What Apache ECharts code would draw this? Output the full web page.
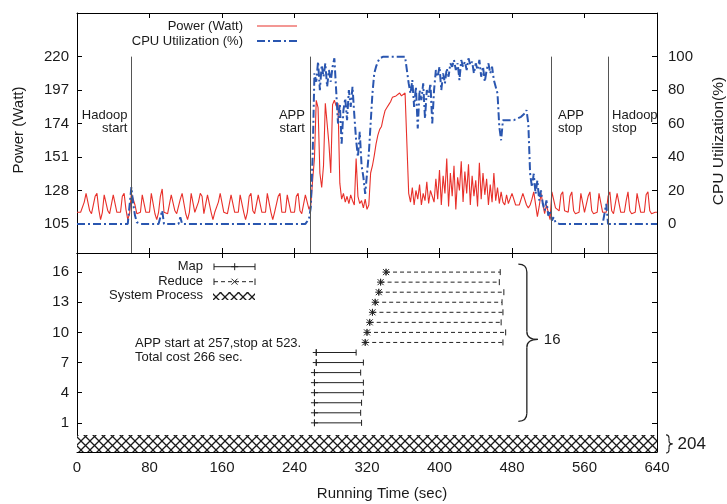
<!DOCTYPE html>
<html><head><meta charset="utf-8">
<script src="https://cdn.jsdelivr.net/npm/echarts@6/dist/echarts.min.js"></script>
<style>html,body{margin:0;padding:0;background:#fff}#c{width:727px;height:504px}</style>
</head><body><div id="c"></div>
<script>
// ---------------- data ----------------
const sampleStep = 2; // seconds between samples (t = 0..640)
const power = [
113,113,113,114,120,126,126,114,112,113,
124,126,115,108,113,125,126,114,112,112,
125,126,113,112,113,124,126,115,108,112,
126,127,118,112,113,113,125,126,113,112,
113,126,125,112,108,113,124,129,113,112,
112,113,125,126,114,112,113,122,126,125,
112,108,113,126,125,113,112,120,126,124,
112,112,125,126,113,108,113,113,120,126,
126,113,112,112,113,125,126,113,112,113,
125,126,113,108,113,124,126,114,112,113,
125,126,113,112,113,126,125,113,108,113,
113,124,126,113,112,113,125,126,113,112,
113,124,126,114,112,112,125,126,115,
118,135,150,190,185,140,130,145,188,189,
160,140,187,190,186,188,133,122,126,120,
124,119,125,121,118,150,124,119,121,116,
122,115,118,140,145,152,160,166,170,172,
178,183,185,187,189,192,191,193,192,195,
193,194,195,195,126,
120,130,118,128,122,132,118,126,121,134,
119,128,124,120,136,122,142,118,138,126,
150,117,140,124,145,115,137,128,148,120,
141,126,146,118,138,124,135,117,147,122,
140,125,136,118,132,120,140,121,130,119,
127,120,118,125,119,118,
126,127,118,117,118,119,126,127,118,116,
118,122,127,126,110,117,126,127,112,118,
117,108,127,126,116,115,114,125,127,114,
113,113,124,127,114,112,113,113,126,126,
113,112,124,127,114,112,113,113,126,126,
113,112,113,124,127,114,112,113,126,126,
113,112,113,121,127,114,112,113,113,126,
126,113,112,113,125,127,114,112,112,113,
113];
const cpu = [
0,0,0,0,0,0,0,0,0,0,
0,0,0,0,0,0,0,0,0,0,
0,0,0,0,0,0,0,0,0,0,
22,12,5,1,0,0,0,0,0,0,
0,0,0,0,0,0,0,8,0,0,
0,0,0,0,0,0,0,4,0,0,
0,0,0,0,0,0,0,0,0,0,
0,0,0,0,0,0,0,0,0,0,
0,0,0,0,0,0,0,0,0,0,
0,0,0,0,0,0,0,0,0,0,
0,0,0,0,0,0,0,0,0,0,
0,0,0,0,0,0,0,0,0,0,
0,0,0,0,0,0,0,0,3,
10,40,90,85,97,80,95,88,96,82,
92,85,94,99,100,60,72,48,68,75,
62,80,70,82,65,50,40,55,35,28,
18,30,42,60,78,90,94,97,99,100,
100,100,100,100,100,100,100,100,100,100,
100,100,100,100,84,
78,86,70,82,57,80,74,84,63,80,
76,84,60,80,92,88,94,80,90,84,
93,88,96,94,98,92,96,86,98,94,
97,92,99,95,97,90,96,92,98,88,
94,85,92,96,90,94,86,82,78,58,
50,62,62,62,62,62,
62,62,62,63,63,64,64,66,68,60,
30,22,30,18,26,14,20,12,8,14,
5,8,2,4,1,0,0,0,0,0,
0,0,0,0,0,0,0,0,0,0,
0,0,0,0,0,0,0,0,0,0,
0,0,12,0,0,0,0,0,0,0,
0,0,0,0,0,0,0,0,0,0,
0,0,0,0,0,0,0,0,0,0,
0];
const powerTicks = [105,128,151,174,197,220];
const cpuTicks = [0,20,40,60,80,100];
const taskTicks = [1,4,7,10,13,16];
const events = [60,257,523,586];
const eventLabels = ['Hadoop\nstart','APP\nstart','APP\nstop','Hadoop\nstop'];
const mapRows = [1,2,3,4,5,6,7,8];
const mapStart = [262,262,262,262,262,262,264,264];
const mapEnd = [314,313,314,316,316,313,316,308];
const reduceRows = [9,10,11,12,13,14,15,16];
const reduceStart = [318,320,323,326,329,333,335,341];
const reduceEnd = [470,473,468,470,469,471,466,467];
const sysProc = [[0,640,-1.9,-0.2]]; // start, end, low, high
const sysProcCount = 204;
const appStart = 257, appStop = 523;

// ---------------- helpers ----------------
const FONT = '"Liberation Sans", Arial, Helvetica, sans-serif';
const INK = '#1a1a1a';
const RED = '#e8302a', BLUE = '#2a56b0';
const cpuMin = (85-105)/1.15, cpuMax = (250-105)/1.15;

function hatchCanvas(){
  const c=document.createElement('canvas'); c.width=9; c.height=9;
  const x=c.getContext('2d'); x.fillStyle='#fff'; x.fillRect(0,0,9,9);
  x.strokeStyle='#1a1a1a'; x.lineWidth=1.3; x.beginPath();
  x.moveTo(-1,-1); x.lineTo(10,10); x.moveTo(10,-1); x.lineTo(-1,10); x.stroke();
  return c;
}
const HATCH = {image: hatchCanvas(), repeat:'repeat'};

function xAx(grid, pos, labels){
  return {gridIndex:grid, type:'value', min:0, max:640, interval:80, position:pos,
    axisLine:{show:true,onZero:false,lineStyle:{color:'#000',width:1}},
    axisTick:{show:true,inside:true,length:5,lineStyle:{color:'#000'}},
    axisLabel:{show:labels,fontSize:15,color:INK,fontFamily:FONT,margin:8,showMinLabel:true,showMaxLabel:true},
    splitLine:{show:false}};
}
function yAx(grid,pos,min,max,ticks,labels,margin){
  return {gridIndex:grid, type:'value', min:min, max:max, position:pos,
    axisLine:{show:true,onZero:false,lineStyle:{color:'#000',width:1}},
    axisTick:{show:true,inside:true,length:5,customValues:ticks,lineStyle:{color:'#000'}},
    axisLabel:{show:labels,customValues:ticks,fontSize:15,color:INK,fontFamily:FONT,margin:margin},
    splitLine:{show:false}};
}

function taskRender(kind){
  return function(params, api){
    const row=api.value(0), s=api.value(1), e=api.value(2);
    const a=api.coord([s,row]), b=api.coord([e,row]);
    const st={stroke:'#222',lineWidth:1};
    const ch=[
      {type:'line',shape:{x1:a[0],y1:a[1],x2:b[0],y2:b[1]},style:Object.assign({},st,kind==='reduce'?{lineDash:[4,3]}:{})},
      {type:'line',shape:{x1:a[0],y1:a[1]-3,x2:a[0],y2:a[1]+3},style:st},
      {type:'line',shape:{x1:b[0],y1:b[1]-3,x2:b[0],y2:b[1]+3},style:st},
      {type:'line',shape:{x1:a[0]-3.5,y1:a[1],x2:a[0]+3.5,y2:a[1]},style:st},
      {type:'line',shape:{x1:a[0],y1:a[1]-3.5,x2:a[0],y2:a[1]+3.5},style:st}
    ];
    if(kind==='reduce'){
      const d=3;
      ch.push({type:'line',shape:{x1:a[0]-d,y1:a[1]-d,x2:a[0]+d,y2:a[1]+d},style:st},
              {type:'line',shape:{x1:a[0]-d,y1:a[1]+d,x2:a[0]+d,y2:a[1]-d},style:st});
    }
    return {type:'group',children:ch};
  };
}

const chart = echarts.init(document.getElementById('c'), null, {renderer:'canvas'});
const option = {
  animation:false,
  backgroundColor:'#fff',
  textStyle:{fontFamily:FONT},
  grid:[{left:77,top:13,width:580,height:240},{left:77,top:253,width:580,height:199}],
  xAxis:[xAx(0,'bottom',false), xAx(0,'top',false), xAx(1,'bottom',true), xAx(1,'top',false)],
  yAxis:[
    yAx(0,'left',85,250,powerTicks,true,8),
    yAx(0,'right',cpuMin,cpuMax,cpuTicks,true,11),
    yAx(1,'left',-1.9,17.9,taskTicks,true,8),
    yAx(1,'right',-1.9,17.9,taskTicks,false,8)
  ],
  series:[
    {type:'line',name:'Power (Watt)',xAxisIndex:0,yAxisIndex:0,symbol:'none',z:2,
     data:power.map((v,i)=>[i*sampleStep,v]),
     lineStyle:{color:RED,width:1.1},itemStyle:{color:RED},
     markLine:{silent:true,symbol:'none',label:{show:false},
       lineStyle:{color:'#555',width:1,type:'solid'},
       data:events.map(t=>[{coord:[t,85]},{coord:[t,220]}])}},
    {type:'line',name:'CPU Utilization (%)',xAxisIndex:0,yAxisIndex:1,symbol:'none',z:3,
     data:cpu.map((v,i)=>[i*sampleStep,v]),
     lineStyle:{color:BLUE,width:2,type:[8,3,2,3]},itemStyle:{color:BLUE}},
    {type:'custom',name:'Map',xAxisIndex:2,yAxisIndex:2,encode:{x:[1,2],y:0},
     data:mapRows.map((r,i)=>[r,mapStart[i],mapEnd[i]]),renderItem:taskRender('map')},
    {type:'custom',name:'Reduce',xAxisIndex:2,yAxisIndex:2,encode:{x:[1,2],y:0},
     data:reduceRows.map((r,i)=>[r,reduceStart[i],reduceEnd[i]]),renderItem:taskRender('reduce')},
    {type:'custom',name:'System Process',xAxisIndex:2,yAxisIndex:2,encode:{x:[0,1],y:[2,3]},z:1,
     data:sysProc,
     renderItem:function(params,api){
       const a=api.coord([api.value(0),api.value(3)]), b=api.coord([api.value(1),api.value(2)]);
       return {type:'rect',shape:{x:a[0],y:a[1],width:b[0]-a[0],height:b[1]-a[1]},style:{fill:HATCH,stroke:null}};
     }}
  ]
};
chart.setOption(option);

// ---------------- annotations ----------------
const P0=(t,v)=>chart.convertToPixel({xAxisIndex:0,yAxisIndex:0},[t,v]);
const P1=(t,v)=>chart.convertToPixel({xAxisIndex:2,yAxisIndex:2},[t,v]);
const g=[];
function T(x,y,text,o,rot){const el={type:'text',x:x,y:y,silent:true,z:10,
  style:Object.assign({text:text,fill:INK,fontSize:13,fontFamily:FONT,align:'left',verticalAlign:'middle',lineHeight:13.5},o||{})};
  if(rot) el.rotation=rot; g.push(el);}
function L(x1,y1,x2,y2,st){g.push({type:'line',silent:true,z:10,shape:{x1:x1,y1:y1,x2:x2,y2:y2},
  style:Object.assign({stroke:'#222',lineWidth:1},st||{})});}
function Q(x1,y1,cx,cy,x2,y2,st){g.push({type:'bezierCurve',silent:true,z:10,
  shape:{x1:x1,y1:y1,cpx1:cx,cpy1:cy,x2:x2,y2:y2},style:Object.assign({stroke:'#222',lineWidth:1.2,fill:null},st||{})});}
function brace(xL,xM,xT,yT,yC,yB,r,w){
  const st={lineWidth:w};
  Q(xL,yT,xM,yT,xM,yT+r,st); L(xM,yT+r,xM,yC-r,st); Q(xM,yC-r,xM,yC,xT,yC,st);
  Q(xT,yC,xM,yC,xM,yC+r,st); L(xM,yC+r,xM,yB-r,st); Q(xM,yB-r,xM,yB,xL,yB,st);
}

// axis titles
T(18.5,130,'Power (Watt)',{fontSize:15,align:'center'},Math.PI/2);
T(719,141,'CPU Utilization(%)',{fontSize:15.5,align:'center'},Math.PI/2);
T(382,494,'Running Time (sec)',{fontSize:15,align:'center'});

// top legend
T(243,26.7,'Power (Watt)',{align:'right'});
L(257,26,297,26,{stroke:RED,lineWidth:1.2});
T(243,41.7,'CPU Utilization (%)',{align:'right'});
L(257,41,297,41,{stroke:BLUE,lineWidth:2,lineDash:[8,3,2,3]});

// event labels
const evOff=[-4,-5,7,4];
events.forEach((t,i)=>{const p=P0(t,175);T(p[0]+evOff[i],p[1],eventLabels[i],{align:i<2?'right':'left'});});

// bottom legend
T(203,266.7,'Map',{align:'right'});
L(214,266.7,255,266.7); L(214,263.5,214,270); L(255,263.5,255,270);
L(231.2,266.7,238.2,266.7); L(234.7,263.2,234.7,270.2);
T(203,281.7,'Reduce',{align:'right'});
L(214,281.7,255,281.7,{lineDash:[4,3]}); L(214,278.5,214,285); L(255,278.5,255,285);
L(231.5,278.7,237.5,284.7); L(231.5,284.7,237.5,278.7);
T(203,295.7,'System Process',{align:'right'});
g.push({type:'rect',silent:true,z:10,shape:{x:213,y:292,width:42,height:8},style:{fill:HATCH}});

// app text
const pt=P1(64,8.2);
T(pt[0],pt[1],'APP start at '+appStart+',stop at '+appStop+'.\nTotal cost '+(appStop-appStart)+' sec.');

// big brace for 16 tasks
const bt=P1(487,16.8), bb=P1(487,1.15), btip=P1(508.5,9.3);
brace(bt[0], bt[0]+8.5, btip[0], bt[1], btip[1], bb[1], 8, 1.3);
T(btip[0]+6,btip[1],String(mapRows.length+reduceRows.length),{fontSize:15});

// small brace for system processes
const st=P1(640,sysProc[0][3]), sb=P1(640,sysProc[0][2]);
const sx=st[0]+9, sm=sx+3, stp=sm+3.5, sy0=st[1], sy1=sb[1]+1, sc=(sy0+sy1)/2;
brace(sx, sm, stp, sy0, sc, sy1, 3.5, 1.2);
T(stp+5,sc,String(sysProcCount),{fontSize:17});

chart.setOption({graphic:{elements:g}});
</script></body></html>
